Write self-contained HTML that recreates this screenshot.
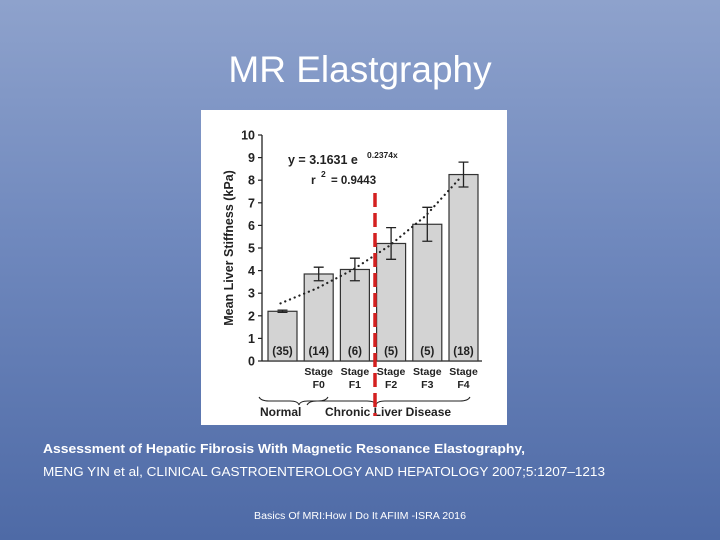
<!DOCTYPE html>
<html><head><meta charset="utf-8">
<style>
html,body{margin:0;padding:0;width:720px;height:540px;overflow:hidden;}
body{background:linear-gradient(180deg,#8ea2cc 0%,#6f88bd 45%,#4e6aa6 100%);font-family:"Liberation Sans",sans-serif;}
svg{position:absolute;left:0;top:0;}
</style></head>
<body>
<svg width="720" height="540" viewBox="0 0 720 540" id="svg">
<text x="360" y="82" text-anchor="middle" font-size="37" fill="#fff">MR Elastgraphy</text>
<rect x="201" y="110" width="306" height="315" fill="#fff"/>
<g id="chart"></g>
<text x="43" y="453" font-size="13" font-weight="bold" fill="#fff" textLength="482" lengthAdjust="spacingAndGlyphs">Assessment of Hepatic Fibrosis With Magnetic Resonance Elastography,</text>
<text x="43" y="476" font-size="13" fill="#fff" textLength="562" lengthAdjust="spacingAndGlyphs">MENG YIN et al, CLINICAL GASTROENTEROLOGY AND HEPATOLOGY 2007;5:1207–1213</text>
<text x="254" y="519" font-size="10" fill="#fff" textLength="212" lengthAdjust="spacingAndGlyphs">Basics Of MRI:How I Do It  AFIIM -ISRA 2016</text>
</svg>
<script>
const categories=["Normal","F0","F1","F2","F3","F4"];
const values=[2.2,3.85,4.05,5.2,6.05,8.25];
const errors=[0.05,0.3,0.5,0.7,0.75,0.55];
const counts=["(35)","(14)","(6)","(5)","(5)","(18)"];
const trend=[2.55,3.21,4.04,5.09,6.41,8.07];
const yTicks=[0,1,2,3,4,5,6,7,8,9,10];
const NS="http://www.w3.org/2000/svg";
const g=document.getElementById('chart');
const y0=361,yPer=22.6,axX=262,bx0=268,step=36.2,bw=29;
const Y=v=>y0-v*yPer;
const X=i=>bx0+i*step;
function mk(t,a,txt){const e=document.createElementNS(NS,t);for(const k in a)e.setAttribute(k,a[k]);if(txt!==undefined)e.textContent=txt;g.appendChild(e);return e;}
// axis
let ax=mk('line',{x1:axX,y1:Y(0),x2:axX,y2:Y(10),stroke:'#222','stroke-width':1.3});


let bl=mk('line',{x1:axX,y1:Y(0),x2:482,y2:Y(0),stroke:'#222','stroke-width':1.3});


yTicks.forEach(t=>{
 let tk=mk('line',{x1:axX-4,y1:Y(t),x2:axX,y2:Y(t),stroke:'#222','stroke-width':1.2});
 
 
 let tl=mk('text',{x:axX-7,y:Y(t)+4.5,'text-anchor':'end','font-size':12.5,'font-weight':'bold',fill:'#222'},t);
 
 
});
let yt=mk('text',{x:0,y:0,transform:`translate(233,${Y(5)}) rotate(-90)`,'text-anchor':'middle','font-size':12.5,'font-weight':'bold',fill:'#222'},'Mean Liver Stiffness (kPa)');


values.forEach((v,i)=>{
 let r=mk('rect',{x:X(i),y:Y(v),width:bw,height:Y(0)-Y(v),fill:'#d3d3d3',stroke:'#333','stroke-width':1.2});
 
 
 const cx=X(i)+bw/2,e=errors[i];
 let eb=mk('path',{d:`M${cx},${Y(v+e)}V${Y(v-e)}M${cx-5},${Y(v+e)}H${cx+5}M${cx-5},${Y(v-e)}H${cx+5}`,stroke:'#222','stroke-width':1.3,fill:'none'});
 
 
 let c=mk('text',{x:cx,y:Y(0)-6,'text-anchor':'middle','font-size':11.5,'font-weight':'bold',fill:'#222'},counts[i]);
 
 
 if(i>0){
  let s=mk('text',{x:cx,y:375,'text-anchor':'middle','font-size':10.5,'font-weight':'bold',fill:'#222'},'Stage');
  
  
  let f=mk('text',{x:cx,y:388,'text-anchor':'middle','font-size':10.5,'font-weight':'bold',fill:'#222'},categories[i]);
  
  
 }
});
let pts=trend.map((v,i)=>(X(i)+bw/2-2+ (i==5?-2:0))+','+Y(v)).join(' ');
let tr=mk('polyline',{points:pts,fill:'none',stroke:'#222','stroke-width':2.2,'stroke-dasharray':'0.1 5','stroke-linecap':'round'});


let eq=mk('text',{x:288,y:164,'font-size':12.5,'font-weight':'bold',fill:'#222'},'y = 3.1631 e');


let ex=mk('text',{x:367,y:158,'font-size':8.5,'font-weight':'bold',fill:'#222'},'0.2374x');


let r2=mk('text',{x:311,y:184,'font-size':12,'font-weight':'bold',fill:'#222'},'r');


let r2s=mk('text',{x:321,y:177,'font-size':8.5,'font-weight':'bold',fill:'#222'},'2');


let r2v=mk('text',{x:331,y:184,'font-size':11.5,'font-weight':'bold',fill:'#222'},'= 0.9443');


let br=mk('path',{d:'M259,397 q2,4 10,4 h21 q8,0 9,4 q1,-4 9,-4 h10 q8,0 10,-4 M307,405 q2,-4 10,-4 h50 q8,0 9,4 q1,-4 9,-4 h75 q8,0 10,-4',fill:'none',stroke:'#222','stroke-width':1});


let n=mk('text',{x:260,y:416,'font-size':12,'font-weight':'bold',fill:'#222'},'Normal');


let cl=mk('text',{x:325,y:416,'font-size':12,'font-weight':'bold',fill:'#222'},'Chronic Liver Disease');


let rd=mk('line',{x1:375,y1:193,x2:375,y2:416,stroke:'#d42020','stroke-width':3.5,'stroke-dasharray':'14 6'});


</script>
</body></html>
